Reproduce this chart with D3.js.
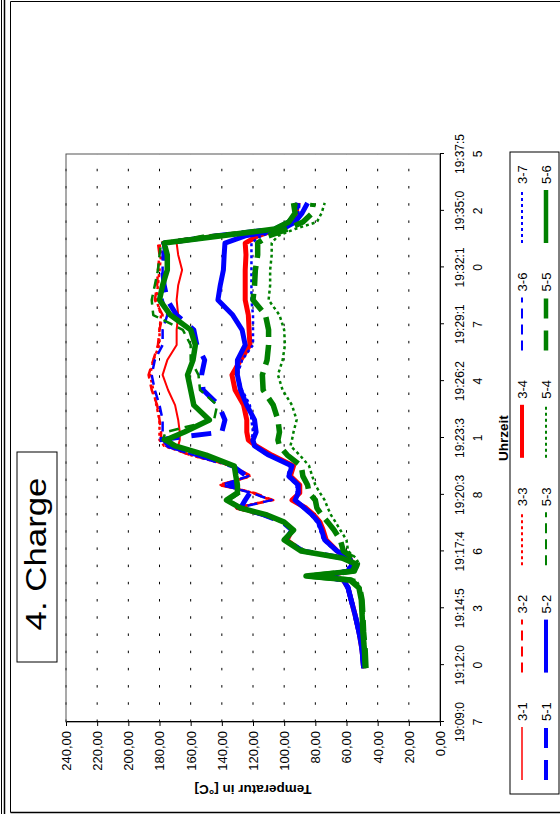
<!DOCTYPE html>
<html>
<head>
<meta charset="utf-8">
<script src="https://cdn.jsdelivr.net/npm/d3@7/dist/d3.min.js"></script>
<style>
  html, body { margin: 0; padding: 0; background: #fff; }
  svg { display: block; }
  text { font-family: "Liberation Sans", Arial, sans-serif; fill: #000; }
</style>
</head>
<body>
<script>
// Sample times (clock time of each reading)
const times = ["19:11:51","19:12:46","19:13:41","19:14:33","19:15:18","19:15:55","19:16:19","19:16:31",
  "19:16:46","19:17:08","19:17:26","19:17:47","19:18:21","19:18:51","19:19:15","19:19:37","19:19:58",
  "19:20:22","19:20:44","19:21:08","19:21:35","19:22:06","19:22:39","19:23:07","19:23:25","19:23:49",
  "19:24:26","19:25:11","19:25:57","19:26:43","19:27:28","19:28:14","19:29:00","19:29:45","19:30:31",
  "19:31:16","19:32:02","19:32:48","19:33:24","19:33:46","19:34:07","19:34:28","19:34:55","19:35:26"];

// Temperatures in °C, one array per measuring point
const temp31 = [49.5,50.5,52.5,55,57.5,59.5,62,76,60,57, 62,87,97,94,100,115,131,108,120,141,122,134,155,168,167,
  167,168,170,174.5,178,175,169,169,168,169,168,165.5,168,169,140,105,96,92,90];
const temp32 = [49,50,52,54.5,57,59,62,78,59,57, 62,88,99,95,101,114,132,107,119,142,121,133,160,176,179,
  179,180,181.5,185,187,184,181,180,178,183,181.5,181,180,181,150,107,97,93,93];
const temp33 = [48.5,50,51.5,54,56.5,58.5,61.5,77,58.5,56.5, 61,88,99,95,101,115,131,109,120,140,122,134,160,177,180,
  180,180,182,184,186,184,180,180,179,182,181,180,179,180,148,106,97,93,92];
const temp34 = [49,50,52,54.5,57,59,62,75,58,56, 58,66,73,75,77,81,86,95,90,90,96,94,108,118,123,
  124,124,126,131.5,133.5,128,122,122.5,123,125,125,125,124.5,125,117,104,95,92,92];
const temp36 = [49,50.5,52,54.5,57,59,62,77,59,57, 62,88,99,95,101,115,130,108,121,140,123,133,158,175,178,
  178,178,180,183,185,183,178,178,175,178,178,178,178,178,145,106,98,93,92];
const temp37 = [49.5,50.5,52.5,55,57.5,59.5,62.5,76,59,57, 59,67,75,77,79,83,88,92,92,92,98,96,111,120,121,
  120,121,122,127,130,127,120,120,120,121,121,121,121,121,115,101,94,91,90];
const temp51 = [49,50,52,54.5,57,59,62,77,59,57, 62,88,99,95,101,113,128,125,122,135,124,133,155,174,181,
  140,138,142,152,153,151,156,158,169,175,177,178,176,177,143,106,97,93,91];
const temp52 = [49,50,52,54.5,57,59,62,76,58.5,56.5, 58,66,74,76,78,82,87,93,91,91,97,95,110,119,120,
  118,119,124,128,130,130,125,127,133,142.5,141,139,138.5,138,125,101,93,88.5,85];
const temp53 = [47.5,48,49,49.5,50.5,52,56,80,55,53, 62,86,98,94,100,112,127,135,128,131,130,132,152,172,178,
  176,145,143,154,155,160,160,165,184,185,183,181,180,179,152,107,97,93,92];
const temp54 = [47.5,48,48.5,49,50,51,54,74,54,52, 54,59,60,64,67,70,72,74,77,80,82,84,90,96,95,
  94,92,95,101,104,101,99.5,100,103,110,109,109,108,108,104,93,79,76,74];
const temp55 = [47.5,48,49,49.5,50,51.5,57,84,55,53, 56,62,64,68,72,76,79,80,84,85,88,89,98,103,104,
  103,104,107,113.5,114,111,110,110,112,120,119,118.5,117,117,110,97.5,88,82,81.5];
const temp56 = [48,48.5,49.5,50,50.5,52,58,86,56,54, 63,89,100,94,100,111,128,137,130,130,131,132,150,170,176,
  164,148,158,160,162,158.5,157,160,173,180,178,175,175,177,140,106,97,93,94];

const seriesNames = ["3-1","3-2","3-3","3-4","3-6","3-7","5-1","5-2","5-3","5-4","5-5","5-6"];
const seriesValues = [temp31,temp32,temp33,temp34,temp36,temp37,temp51,temp52,temp53,temp54,temp55,temp56];

// Axis ticks
const tickTimes = ["19:09:07","19:12:00","19:14:53","19:17:46","19:20:38","19:23:31",
  "19:26:24","19:29:17","19:32:10","19:35:02","19:37:55"];
const valueTicks = [0,20,40,60,80,100,120,140,160,180,200,220,240];

const chartTitle = "4. Charge";
const yTitle = "Temperatur in [°C]";
const xTitle = "Uhrzeit";

// Line appearance per series (width in the legend; the plot draws a little heavier)
const red = "#ff0000", blue = "#0000ff", green = "#008000";
const styleOf = {
  "3-1": { color: red,   width: 1.5, plotWidth: 2,   dash: null },
  "3-2": { color: red,   width: 2,   plotWidth: 2.5, dash: "10,6" },
  "3-3": { color: red,   width: 2,   plotWidth: 2.5, dash: "3,3" },
  "3-4": { color: red,   width: 4,   plotWidth: 5,   dash: null },
  "3-6": { color: blue,  width: 2,   plotWidth: 2.5, dash: "10,6" },
  "3-7": { color: blue,  width: 2,   plotWidth: 2.5, dash: "3,3" },
  "5-1": { color: blue,  width: 4,   plotWidth: 5,   dash: "20,12" },
  "5-2": { color: blue,  width: 4,   plotWidth: 5,   dash: null },
  "5-3": { color: green, width: 2,   plotWidth: 2.5, dash: "10,6" },
  "5-4": { color: green, width: 2,   plotWidth: 2.5, dash: "3,3" },
  "5-5": { color: green, width: 4.5, plotWidth: 5.5, dash: "20,8" },
  "5-6": { color: green, width: 4.5, plotWidth: 5.5, dash: null }
};

const W = 560, H = 817;
const svg = d3.select("body").append("svg").attr("width", W).attr("height", H);

// Page frame
const frame = svg.append("g").attr("stroke", "#000").attr("fill", "none");
frame.append("line").attr("x1", 1.5).attr("y1", 0).attr("x2", 1.5).attr("y2", 814).attr("stroke-width", 1);
frame.append("line").attr("x1", 4.5).attr("y1", 0).attr("x2", 4.5).attr("y2", 814).attr("stroke-width", 1.5);
frame.append("line").attr("x1", 10.5).attr("y1", 1.5).attr("x2", 10.5).attr("y2", 812.5);
frame.append("line").attr("x1", 10.5).attr("y1", 812.5).attr("x2", W).attr("y2", 812.5).attr("stroke-width", 1.5);
frame.append("line").attr("x1", 10.5).attr("y1", 1.5).attr("x2", W).attr("y2", 1.5);

// The chart is laid out landscape (817 x 560) and turned a quarter turn to the left
const g = svg.append("g").attr("transform", `translate(0,${H}) rotate(-90)`);

const plot = { left: 95, right: 663, top: 66, bottom: 440 };
const parse = d3.timeParse("%H:%M:%S");
const x = d3.scaleTime()
  .domain([parse(tickTimes[0]), parse(tickTimes[tickTimes.length - 1])])
  .range([plot.left, plot.right]);
const y = d3.scaleLinear().domain([0, 240]).range([plot.bottom, plot.top]);

// Dotted gridlines
g.append("g").selectAll("line").data(valueTicks.filter(v => v > 0)).join("line")
  .attr("x1", plot.left).attr("x2", plot.right)
  .attr("y1", d => y(d)).attr("y2", d => y(d))
  .attr("stroke", "#000").attr("stroke-width", 1)
  .attr("stroke-dasharray", "2.5,14.71");

// Plot border
g.append("rect")
  .attr("x", plot.left).attr("y", plot.top)
  .attr("width", plot.right - plot.left).attr("height", plot.bottom - plot.top)
  .attr("fill", "none").attr("stroke", "#555").attr("stroke-width", 1);

// Value axis
const fmtVal = v => d3.format(".2f")(v).replace(".", ",");
const yAxis = g.append("g").attr("transform", `translate(${plot.left},0)`)
  .call(d3.axisLeft(y).tickValues(valueTicks).tickSize(4).tickSizeOuter(0).tickFormat(fmtVal));
yAxis.select(".domain").attr("stroke", "#000");
yAxis.selectAll(".tick line").attr("stroke", "#000");
yAxis.selectAll(".tick text")
  .attr("x", -9).attr("dy", "0.34em")
  .style("font-family", "'Liberation Sans', Arial, sans-serif")
  .style("font-size", "13px").attr("fill", "#000");

// Time axis
const xAxis = g.append("g").attr("transform", `translate(0,${plot.bottom})`)
  .call(d3.axisBottom(x).tickValues(tickTimes.map(parse)).tickSize(4).tickSizeOuter(0).tickFormat(""));
xAxis.select(".domain").attr("stroke", "#000");
xAxis.selectAll(".tick line").attr("stroke", "#000");
const tickLbl = g.append("g").selectAll("text").data(tickTimes).join("text")
  .attr("x", d => x(parse(d)))
  .attr("text-anchor", "middle")
  .style("font-size", "12px");
tickLbl.append("tspan").attr("x", d => x(parse(d))).attr("y", 464).text(d => d.slice(0, 7));
tickLbl.append("tspan").attr("x", d => x(parse(d))).attr("y", 482).text(d => d.slice(7));

// Axis titles
g.append("text")
  .attr("transform", `translate(32,${(plot.top + plot.bottom) / 2}) rotate(-90)`)
  .attr("text-anchor", "middle")
  .style("font-size", "13.5px").style("font-weight", "bold")
  .text(yTitle);
g.append("text")
  .attr("x", (plot.left + plot.right) / 2).attr("y", 508)
  .attr("text-anchor", "middle")
  .style("font-size", "13.5px").style("font-weight", "bold")
  .text(xTitle);

// Series lines
const line = d3.line()
  .x((d, i) => x(parse(times[i])))
  .y(d => y(d));
g.append("g").selectAll("path").data(seriesNames).join("path")
  .attr("d", (name, i) => line(seriesValues[i]))
  .attr("fill", "none")
  .attr("stroke", name => styleOf[name].color)
  .attr("stroke-width", name => styleOf[name].plotWidth)
  .attr("stroke-dasharray", name => styleOf[name].dash)
  .attr("stroke-linejoin", "round");

// Chart title in a box
g.append("rect").attr("x", 155).attr("y", 17).attr("width", 210).attr("height", 40)
  .attr("fill", "#fff").attr("stroke", "#000").attr("stroke-width", 1);
g.append("text").attr("x", 263).attr("y", 46)
  .attr("text-anchor", "middle")
  .attr("textLength", 153).attr("lengthAdjust", "spacingAndGlyphs")
  .style("font-size", "30px")
  .text(chartTitle);

// Legend
g.append("rect").attr("x", 23).attr("y", 510).attr("width", 642).attr("height", 49)
  .attr("fill", "#fff").attr("stroke", "#000").attr("stroke-width", 1);
const legendStep = 107.4;
const legendItems = g.append("g").selectAll("g").data(seriesNames).join("g")
  .attr("transform", (name, i) => {
    const col = i % 6, row = Math.floor(i / 6);
    return `translate(${37 + col * legendStep},${row === 0 ? 522 : 546})`;
  });
legendItems.append("line")
  .attr("x1", 0).attr("x2", 53).attr("y1", 0).attr("y2", 0)
  .attr("stroke", name => styleOf[name].color)
  .attr("stroke-width", name => styleOf[name].width)
  .attr("stroke-dasharray", name => name === "5-5" ? "20,12" : styleOf[name].dash);
legendItems.append("text")
  .attr("x", 59).attr("y", 4.5)
  .style("font-size", "13px")
  .text(name => name);
</script>
</body>
</html>
